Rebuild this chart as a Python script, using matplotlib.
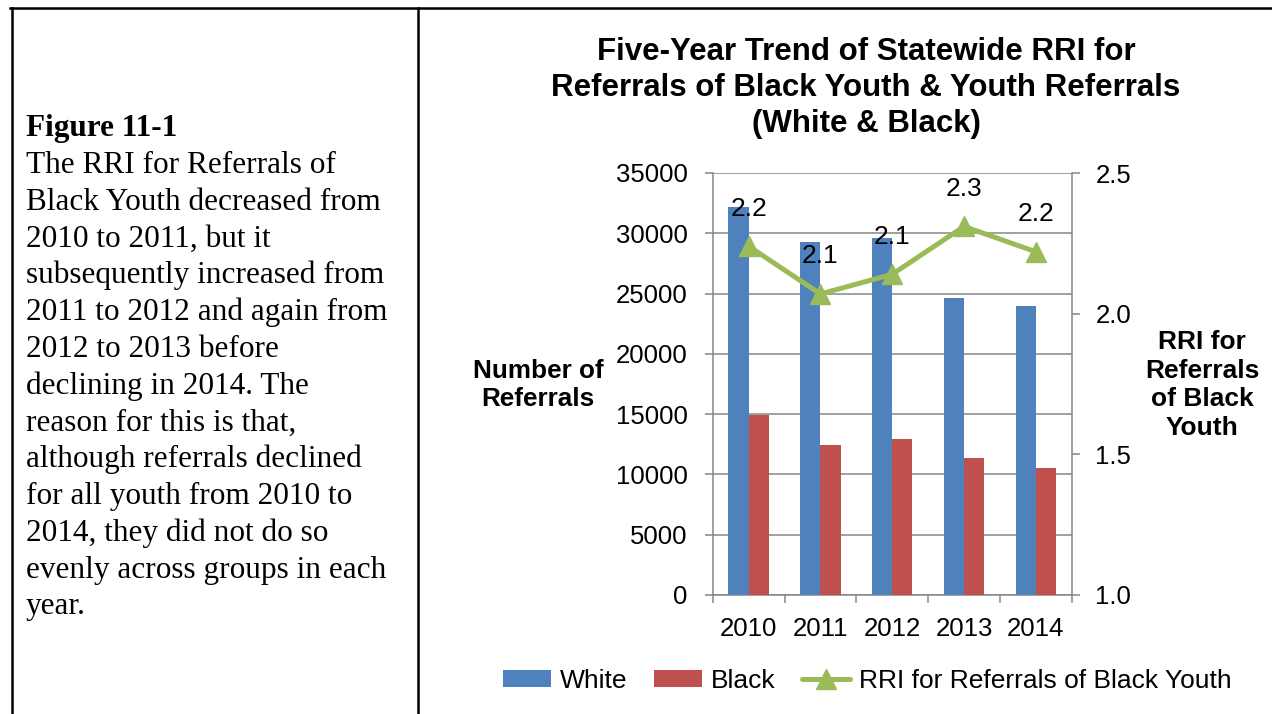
import matplotlib
matplotlib.use("Agg")
import matplotlib.pyplot as plt
import numpy as np
from matplotlib.lines import Line2D
from matplotlib.patches import Patch
from matplotlib.ticker import FixedLocator, FormatStrFormatter

years = ["2010", "2011", "2012", "2013", "2014"]
white_referrals = [32200, 29300, 29600, 24650, 23950]
black_referrals = [14900, 12450, 12950, 11400, 10570]
rri_black = [2.24, 2.07, 2.14, 2.31, 2.22]

left_ticks = [0, 5000, 10000, 15000, 20000, 25000, 30000, 35000]
right_ticks = [1.0, 1.5, 2.0, 2.5]

caption_title = "Figure 11-1"
caption_lines = [
    "The RRI for Referrals of",
    "Black Youth decreased from",
    "2010 to 2011, but it",
    "subsequently increased from",
    "2011 to 2012 and again from",
    "2012 to 2013 before",
    "declining in 2014. The",
    "reason for this is that,",
    "although referrals declined",
    "for all youth from 2010 to",
    "2014, they did not do so",
    "evenly across groups in each",
    "year.",
]

title_lines = [
    "Five-Year Trend of Statewide RRI for",
    "Referrals of Black Youth & Youth Referrals",
    "(White & Black)",
]

BLUE = "#4F81BD"
RED = "#C0504D"
GREEN = "#9BBB59"
AXIS_GRAY = "#868686"
SANS = "Liberation Sans"
SERIF = "Liberation Serif"

W, H = 1272, 714
fig = plt.figure(figsize=(W / 100, H / 100), dpi=100)

def fx(px):
    return px / W

def fy(py):
    return 1 - py / H

# table borders around caption and chart cells
fig.add_artist(Line2D([fx(10), fx(1272)], [fy(8), fy(8)], color="black", lw=1.8))
fig.add_artist(Line2D([fx(11.5), fx(11.5)], [fy(8), fy(714)], color="black", lw=1.8))
fig.add_artist(Line2D([fx(418), fx(418)], [fy(8), fy(714)], color="black", lw=1.8))

# caption text in the left cell
fig.text(fx(26), fy(136), caption_title, family=SERIF, fontsize=22.5,
         fontweight="bold", ha="left", va="baseline")
for i, line in enumerate(caption_lines):
    fig.text(fx(26), fy(136 + 36.8 * (i + 1)), line, family=SERIF,
             fontsize=22.5, ha="left", va="baseline")

# chart
ax = fig.add_axes([fx(712.7), fy(595), fx(1071.7) - fx(712.7), fy(173) - fy(595)])
x = np.arange(len(years))
bw = 0.28
ax.bar(x - bw / 2, white_referrals, width=bw, color=BLUE, zorder=3)
ax.bar(x + bw / 2, black_referrals, width=bw, color=RED, zorder=3)

ax.set_xlim(-0.5, len(years) - 0.5)
ax.set_ylim(0, 35000)
ax.yaxis.set_major_locator(FixedLocator(left_ticks))
ax.set_yticklabels([str(t) for t in left_ticks])
ax.xaxis.set_major_locator(FixedLocator(np.arange(-0.5, len(years), 1.0)))
ax.xaxis.set_major_formatter(plt.NullFormatter())
ax.xaxis.set_minor_locator(FixedLocator(x))
ax.set_xticklabels(years, minor=True)
ax.tick_params(axis="x", which="major", length=6, width=1.1, color=AXIS_GRAY, direction="out")
ax.tick_params(axis="x", which="minor", length=0, pad=16, labelsize=18.5)
ax.tick_params(axis="y", length=6, width=1.1, color=AXIS_GRAY, direction="out",
               labelsize=18.5, pad=12)
for lbl in ax.get_xticklabels(minor=True) + ax.get_yticklabels():
    lbl.set_family(SANS)
ax.grid(axis="y", color=AXIS_GRAY, lw=1.1, zorder=0)
for side in ["left", "bottom", "right"]:
    ax.spines[side].set_color(AXIS_GRAY)
    ax.spines[side].set_linewidth(1.1)
ax.spines["top"].set_visible(False)

ax2 = ax.twinx()
ax2.set_ylim(1.0, 2.5)
ax2.yaxis.set_major_locator(FixedLocator(right_ticks))
ax2.yaxis.set_major_formatter(FormatStrFormatter("%.1f"))
ax2.tick_params(axis="y", length=6, width=1.1, color=AXIS_GRAY, direction="out",
                labelsize=18.5, pad=11)
for lbl in ax2.get_yticklabels():
    lbl.set_family(SANS)
for side in ["left", "bottom", "right", "top"]:
    ax2.spines[side].set_visible(False)
ax2.plot(x, rri_black, color=GREEN, lw=3.6, marker="^", markersize=15,
         solid_capstyle="round", zorder=5)
for xi, v in zip(x, rri_black):
    ax2.annotate(f"{v:.1f}", (xi, v), xytext=(0, 27), textcoords="offset points",
                 ha="center", va="center", fontsize=19, family=SANS)

for yb, line in zip([60, 96, 132], title_lines):
    fig.text(fx(866), fy(yb), line, family=SANS, fontsize=22.5,
             fontweight="bold", ha="center", va="baseline")

fig.text(fx(538), fy(385), "Number of\nReferrals", family=SANS, fontsize=18.8,
         fontweight="bold", ha="center", va="center", linespacing=1.23)
fig.text(fx(1202), fy(385), "RRI for\nReferrals\nof Black\nYouth", family=SANS,
         fontsize=19, fontweight="bold", ha="center", va="center", linespacing=1.25)

handles = [
    Patch(facecolor=BLUE, edgecolor="none"),
    Patch(facecolor=RED, edgecolor="none"),
    Line2D([], [], color=GREEN, lw=3.6, marker="^", markersize=15, solid_capstyle="round"),
]
fig.legend(handles, ["White", "Black", "RRI for Referrals of Black Youth"],
           loc="center", bbox_to_anchor=(fx(867), fy(681)), ncol=3, frameon=False,
           prop={"family": SANS, "size": 19}, handlelength=1.82, handleheight=0.62,
           handletextpad=0.34, columnspacing=1.0, borderaxespad=0)

fig.savefig("out.png", dpi=100)
